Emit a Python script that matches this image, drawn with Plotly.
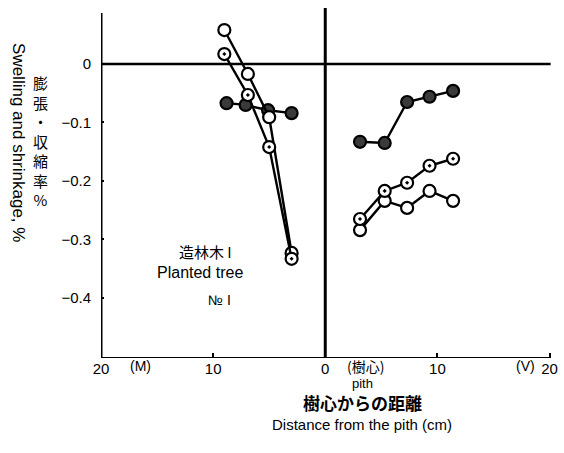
import plotly.graph_objects as go

# ---- data ----
x_left_open = [-9.0, -6.9, -5.0, -3.0]
y_left_a = [0.058, -0.017, -0.091, -0.323]
y_left_b = [0.017, -0.053, -0.142, -0.333]
x_left_filled = [-8.8, -7.1, -5.1, -3.0]
y_left_filled = [-0.067, -0.070, -0.079, -0.084]

x_right = [3.1, 5.3, 7.3, 9.3, 11.4]
y_right_filled = [-0.133, -0.135, -0.065, -0.056, -0.046]
y_right_c = [-0.265, -0.217, -0.203, -0.174, -0.162]
y_right_d = [-0.284, -0.234, -0.246, -0.217, -0.234]

x_tickvals = [-20, -10, 0, 10, 20]
x_ticktext = ["20", "10", "0", "10", "20"]
y_tickvals = [0, -0.1, -0.2, -0.3, -0.4]
y_ticktext = ["0", "\u22120.1", "\u22120.2", "\u22120.3", "\u22120.4"]

XMIN, XMAX = -20, 20.4
YMIN, YMAX = -0.5026, 0.0957

FONT = "Liberation Sans, Arial, sans-serif"
JFONT = "Noto Sans CJK JP, sans-serif"

fig = go.Figure()

def add_series(x, y, filled=False, dotted=True):
    fig.add_trace(go.Scatter(
        x=x, y=y, mode="lines+markers",
        line=dict(color="black", width=2.4),
        marker=dict(
            symbol=("circle" if filled else ("circle-dot" if dotted else "circle")),
            size=12,
            color="#3a3a3a" if filled else "white",
            line=dict(color="black", width=2.2),
        ),
        showlegend=False, cliponaxis=False,
    ))

add_series(x_left_filled, y_left_filled, filled=True)
add_series(x_left_open, y_left_a, dotted=False)
add_series(x_left_open, y_left_b)
add_series(x_right, y_right_filled, filled=True)
add_series(x_right, y_right_d, dotted=False)
add_series(x_right, y_right_c)

shapes = [
    dict(type="line", xref="x", yref="y", x0=XMIN, x1=XMIN, y0=YMIN, y1=0.087,
         line=dict(color="black", width=3)),
    dict(type="line", xref="x", yref="y", x0=XMIN, x1=20.1, y0=YMIN, y1=YMIN,
         line=dict(color="black", width=2)),
    dict(type="line", xref="x", yref="y", x0=0, x1=0, y0=YMIN, y1=YMAX,
         line=dict(color="black", width=3)),
    dict(type="line", xref="x", yref="y", x0=XMIN, x1=20.1, y0=0, y1=0,
         line=dict(color="black", width=2.4)),
]

def ann(text, x, y, xref, yref, size, family=FONT, **kw):
    return dict(text=text, x=x, y=y, xref=xref, yref=yref, showarrow=False,
                xanchor=kw.pop("xanchor", "center"), yanchor=kw.pop("yanchor", "middle"),
                font=dict(family=family, size=size, color="black"), **kw)

annotations = [
    ann("(M)", -16.5, -0.024, "x", "paper", 14),
    ann("(樹心)", 3.6, -0.024, "x", "paper", 14, JFONT),
    ann("(V)", 17.9, -0.024, "x", "paper", 14),
    ann("pith", 3.3, -0.073, "x", "paper", 13),
    ann("<b>樹心からの距離</b>", 3.3, -0.128, "x", "paper", 17, JFONT),
    ann("Distance from the pith (cm)", 3.3, -0.19, "x", "paper", 15),
    ann("Swelling and shrinkage, %", -0.181, 0.617, "paper", "paper", 17, textangle=90),
    ann("膨<br>張<br>・<br>収<br>縮<br>率<br>%", -0.134, 0.62, "paper", "paper", 15, JFONT),
    ann("造林木 I", -10.7, -0.321, "x", "y", 15, JFONT),
    ann("Planted tree", -11.2, -0.357, "x", "y", 16),
    ann("№ I", -9.4, -0.403, "x", "y", 14),
]

fig.update_layout(
    width=564, height=453,
    margin=dict(l=101, r=6, t=8, b=95),
    paper_bgcolor="white", plot_bgcolor="white",
    shapes=shapes, annotations=annotations,
    font=dict(family=FONT, size=15, color="black"),
    xaxis=dict(range=[XMIN, XMAX], showgrid=False, zeroline=False, showline=False,
               tickvals=x_tickvals, ticktext=x_ticktext, ticks="inside", ticklen=5,
               tickwidth=2, tickcolor="black", tickfont=dict(family=FONT, size=15)),
    yaxis=dict(range=[YMIN, YMAX], showgrid=False, zeroline=False, showline=False,
               tickvals=y_tickvals, ticktext=y_ticktext, ticks="inside", ticklen=3,
               tickwidth=2, tickcolor="black", ticklabelstandoff=9,
               tickfont=dict(family=FONT, size=15)),
)

fig.write_html("out.html")
